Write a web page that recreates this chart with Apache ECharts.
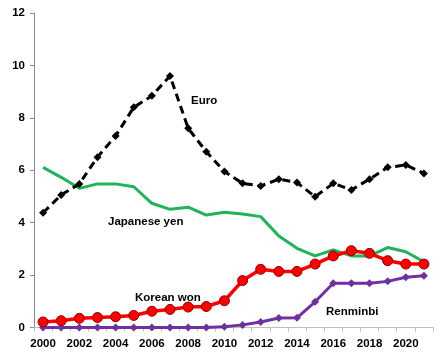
<!DOCTYPE html>
<html><head><meta charset="utf-8">
<script src="https://cdn.jsdelivr.net/npm/echarts@6/dist/echarts.min.js"></script>
<style>html,body{margin:0;padding:0;background:#fff}#c{width:446px;height:363px}</style>
</head><body><div id="c"></div>
<script>
const years = ['2000','2001','2002','2003','2004','2005','2006','2007','2008','2009','2010','2011','2012','2013','2014','2015','2016','2017','2018','2019','2020','2021'];
const euro = [4.38,5.06,5.48,6.5,7.31,8.4,8.84,9.6,7.6,6.71,5.95,5.5,5.4,5.66,5.53,4.99,5.5,5.25,5.66,6.11,6.2,5.88];
const yen = [6.11,5.73,5.31,5.48,5.48,5.37,4.74,4.51,4.59,4.29,4.4,4.33,4.23,3.49,3.02,2.73,2.96,2.73,2.73,3.05,2.89,2.51];
const won = [0.21,0.26,0.35,0.38,0.41,0.46,0.62,0.69,0.78,0.8,1.02,1.79,2.22,2.14,2.14,2.42,2.73,2.93,2.83,2.55,2.42,2.42];
const rmb = [0,0,0,0,0,0,0,0,0,0,0.03,0.1,0.21,0.36,0.37,0.98,1.69,1.69,1.69,1.76,1.92,1.97];
const yTicks = [0,2,4,6,8,10,12];

const font = '"Liberation Sans", Arial, sans-serif';
const chart = echarts.init(document.getElementById('c'));
chart.setOption({
  animation:false,
  grid:{left:34,right:13,top:13,bottom:35.5},
  xAxis:{type:'category',data:years,boundaryGap:true,
    axisLine:{lineStyle:{color:'#bfbfbf',width:1}},
    axisTick:{show:true,interval:0,length:4,lineStyle:{color:'#bfbfbf'}},
    axisLabel:{interval:1,color:'#000',fontFamily:font,fontWeight:'bold',fontSize:11.5,margin:10},
    splitLine:{show:false}},
  yAxis:{type:'value',min:yTicks[0],max:yTicks[yTicks.length-1],interval:2,
    axisLine:{show:true,lineStyle:{color:'#8c8c8c',width:1}},
    axisTick:{show:true,length:4,lineStyle:{color:'#8c8c8c'}},
    axisLabel:{color:'#000',fontFamily:font,fontWeight:'bold',fontSize:11.5,margin:9},
    splitLine:{show:false}},
  series:[
    {name:'Japanese yen',type:'line',data:yen,symbol:'none',lineStyle:{color:'#1fb45a',width:3},itemStyle:{color:'#1fb45a'},z:2},
    {name:'Renminbi',type:'line',data:rmb,symbol:'diamond',symbolSize:8,lineStyle:{color:'#7030a0',width:3},itemStyle:{color:'#7030a0'},z:3},
    {name:'Korean won',type:'line',data:won,symbol:'circle',symbolSize:10,lineStyle:{color:'#ff0000',width:3.5},itemStyle:{color:'#ff0000',borderColor:'#8b0000',borderWidth:1},z:4},
    {name:'Euro',type:'line',data:euro,symbol:'diamond',symbolSize:8,lineStyle:{color:'#000',width:3,type:[8,5]},itemStyle:{color:'#000'},z:5}
  ],
  graphic:[
    {type:'text',left:191,top:95,style:{text:'Euro',font:'bold 11.5px '+font,fill:'#000'}},
    {type:'text',left:108,top:216,style:{text:'Japanese yen',font:'bold 11.5px '+font,fill:'#000'}},
    {type:'text',left:135,top:292,style:{text:'Korean won',font:'bold 11.5px '+font,fill:'#000'}},
    {type:'text',left:326,top:306,style:{text:'Renminbi',font:'bold 11.5px '+font,fill:'#000'}}
  ]
});
</script></body></html>
